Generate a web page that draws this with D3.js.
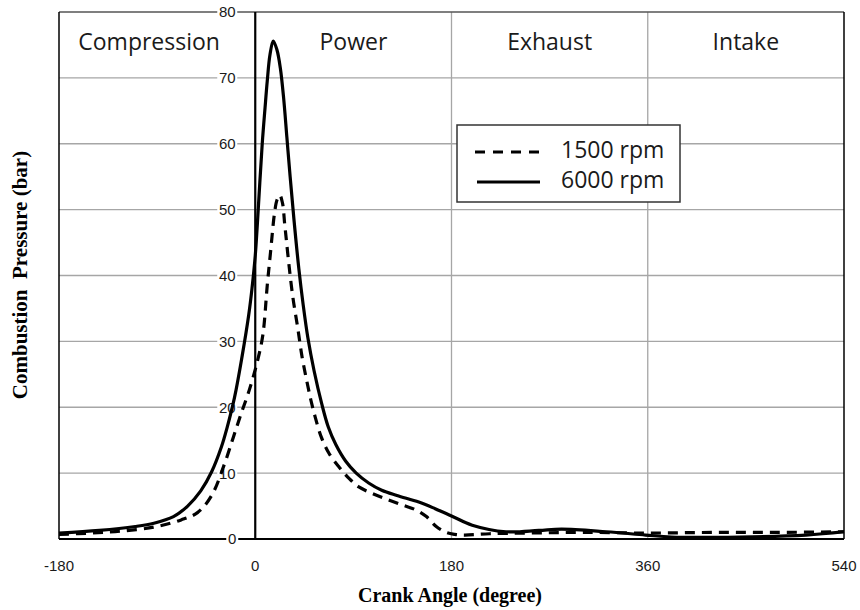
<!DOCTYPE html>
<html>
<head>
<meta charset="utf-8">
<script src="https://cdn.jsdelivr.net/npm/d3@7"></script>
<style>
  body { margin: 0; background: #fff; }
</style>
</head>
<body>
<div id="chart"></div>
<script>
// crank angle (deg) vs pressure (bar)
var angle1500 = [-180, -150, -123, -93, -68, -53, -40, -28, -20, -13, -5.5, 2, 7, 11, 14, 17.7, 20, 22.5, 25, 27, 28.4, 31, 34.5, 39, 43, 47, 51, 55, 60.5, 68, 77, 86, 95, 109, 123, 136, 147.6, 157, 166, 175, 183, 192, 215, 250, 300, 360, 420, 480, 540];
var press1500 = [0.7, 0.9, 1.2, 1.8, 2.9, 4.0, 6.6, 11.5, 15.5, 19, 22.6, 27, 31, 38.5, 43.5, 49.5, 51.5, 52.2, 51, 47.8, 45.6, 41.5, 36.7, 32, 27.6, 24.2, 21.1, 18.5, 15.5, 12.9, 10.9, 9.2, 7.9, 6.8, 5.9, 5.1, 4.4, 3.4, 1.9, 1.0, 0.7, 0.6, 0.8, 0.9, 1.0, 0.9, 1.0, 1.0, 1.1];

var angle6000 = [-180, -143, -110, -93, -75, -62, -50, -40, -31, -26, -19, -12, -6, -3, 0, 2, 6.4, 9, 11, 13.5, 16.5, 20, 23, 26, 29, 32, 35.5, 40, 44, 48.3, 54, 61, 67, 74, 83, 92.6, 104, 116, 130, 150, 165, 180, 199, 230, 260, 281, 322, 358, 382, 444, 505, 540];
var press6000 = [0.9, 1.3, 1.9, 2.4, 3.4, 5.0, 7.3, 10.2, 14.0, 16.8, 21.5, 27.8, 34, 38, 43, 48, 60, 65.5, 69.5, 73.5, 75.6, 74.2, 71.5, 67, 61, 55, 48.5, 41, 35.5, 30.5, 25.5, 20.5, 17, 14.3, 11.8, 10, 8.5, 7.4, 6.6, 5.6, 4.6, 3.5, 2.1, 1.1, 1.3, 1.5, 1.1, 0.6, 0.3, 0.3, 0.6, 1.1];

var xTicks = [-180, 0, 180, 360, 540];
var yTicks = [10, 20, 30, 40, 50, 60, 70, 80];
var phases = ["Compression", "Power", "Exhaust", "Intake"];
var seriesNames = ["1500 rpm", "6000 rpm"];

var W = 860, H = 610;
var svg = d3.select("#chart").append("svg")
    .attr("width", W)
    .attr("height", H);

var x = d3.scaleLinear().domain([-180, 540]).range([59, 844]);
var y = d3.scaleLinear().domain([0, 80]).range([539, 12]);

// horizontal grid
svg.selectAll(".hgrid")
    .data(yTicks.filter(d => d < 80))
    .join("line")
    .attr("x1", x(-180)).attr("x2", x(540))
    .attr("y1", d => y(d)).attr("y2", d => y(d))
    .attr("stroke", "#a6a6a6")
    .attr("stroke-width", 1.3);

// vertical grid
svg.selectAll(".vgrid")
    .data([180, 360])
    .join("line")
    .attr("x1", d => x(d)).attr("x2", d => x(d))
    .attr("y1", y(0)).attr("y2", y(80))
    .attr("stroke", "#a6a6a6")
    .attr("stroke-width", 1.3);

// frame
svg.append("line").attr("x1", x(-180)).attr("x2", x(540)).attr("y1", y(80)).attr("y2", y(80))
    .attr("stroke", "#555").attr("stroke-width", 1.5);
svg.append("line").attr("x1", x(-180)).attr("x2", x(-180)).attr("y1", y(80)).attr("y2", y(0))
    .attr("stroke", "#000").attr("stroke-width", 1.5);
svg.append("line").attr("x1", x(540)).attr("x2", x(540)).attr("y1", y(80)).attr("y2", y(0))
    .attr("stroke", "#000").attr("stroke-width", 1.5);

// y tick labels sitting left of the zero axis, on white
var yl = svg.selectAll(".ylab")
    .data(yTicks)
    .join("g")
    .attr("transform", d => "translate(" + (x(0) - 28) + "," + y(d) + ")");
yl.append("rect")
    .attr("x", -10).attr("y", -7).attr("width", 20).attr("height", 14)
    .attr("fill", "#fff");
yl.append("text")
    .attr("text-anchor", "middle")
    .attr("dy", "0.36em")
    .style("font-family", "'Liberation Sans', Arial, sans-serif")
    .style("font-size", "15px")
    .attr("fill", "#1a1a1a")
    .text(d => d);

// lines
var line = d3.line()
    .x(d => x(d[0]))
    .y(d => y(d[1]))
    .curve(d3.curveCatmullRom.alpha(0.5));

var d1500 = angle1500.map((a, i) => [a, press1500[i]]);
var d6000 = angle6000.map((a, i) => [a, press6000[i]]);

svg.append("path")
    .datum(d1500)
    .attr("d", line)
    .attr("fill", "none")
    .attr("stroke", "#000")
    .attr("stroke-width", 3.2)
    .attr("stroke-dasharray", "10,7");

svg.append("path")
    .datum(d6000)
    .attr("d", line)
    .attr("fill", "none")
    .attr("stroke", "#000")
    .attr("stroke-width", 3.2);

// main axes (x=0 and p=0)
svg.append("line").attr("x1", x(0)).attr("x2", x(0)).attr("y1", y(80)).attr("y2", y(0))
    .attr("stroke", "#000").attr("stroke-width", 2.2);
svg.append("line").attr("x1", x(-180)).attr("x2", x(540)).attr("y1", y(0)).attr("y2", y(0))
    .attr("stroke", "#000").attr("stroke-width", 2.2);

// "0" label on the x axis line
svg.append("rect").attr("x", x(0) - 29).attr("y", y(0) - 7).attr("width", 12).attr("height", 14).attr("fill", "#fff");
svg.append("text")
    .attr("x", x(0) - 23).attr("y", y(0))
    .attr("dy", "0.36em")
    .attr("text-anchor", "middle")
    .style("font-family", "'Liberation Sans', Arial, sans-serif")
    .style("font-size", "15px")
    .attr("fill", "#1a1a1a")
    .text("0");

// x tick labels
svg.selectAll(".xlab")
    .data(xTicks)
    .join("text")
    .attr("x", d => x(d))
    .attr("y", 571)
    .attr("text-anchor", "middle")
    .style("font-family", "'Liberation Sans', Arial, sans-serif")
    .style("font-size", "15px")
    .attr("fill", "#1a1a1a")
    .text(d => d);

// phase labels
svg.selectAll(".phase")
    .data(phases)
    .join("text")
    .attr("x", (d, i) => x(-180 + 180 * i + 90) - (i === 0 ? 8 : 0))
    .attr("y", 50)
    .attr("text-anchor", "middle")
    .style("font-family", "'Open Sans', sans-serif")
    .style("font-size", "23px")
    .attr("fill", "#1a1a1a")
    .text(d => d);

// axis titles
svg.append("text")
    .attr("x", 450).attr("y", 602)
    .attr("text-anchor", "middle")
    .style("font-family", "'Liberation Serif', 'Times New Roman', serif")
    .style("font-weight", "bold")
    .style("font-size", "20px")
    .text("Crank Angle (degree)");

svg.append("text")
    .attr("transform", "translate(27,275) rotate(-90)")
    .attr("text-anchor", "middle")
    .style("font-family", "'Liberation Serif', 'Times New Roman', serif")
    .style("font-weight", "bold")
    .style("font-size", "21px")
    .style("white-space", "pre")
    .text("Combustion  Pressure (bar)");

// legend
var lg = svg.append("g").attr("transform", "translate(457,125)");
lg.append("rect")
    .attr("width", 223).attr("height", 77)
    .attr("fill", "#fff")
    .attr("stroke", "#333")
    .attr("stroke-width", 1.5);
lg.append("line").attr("x1", 18).attr("x2", 85).attr("y1", 27).attr("y2", 27)
    .attr("stroke", "#000").attr("stroke-width", 3.2).attr("stroke-dasharray", "10,8");
lg.append("line").attr("x1", 20).attr("x2", 83).attr("y1", 57).attr("y2", 57)
    .attr("stroke", "#000").attr("stroke-width", 3.2);
lg.selectAll(".ltext")
    .data(seriesNames)
    .join("text")
    .attr("x", 104)
    .attr("y", (d, i) => 25 + i * 30)
    .attr("dy", "0.36em")
    .style("font-family", "'Open Sans', sans-serif")
    .style("font-size", "23px")
    .attr("fill", "#1a1a1a")
    .text(d => d);
</script>
</body>
</html>
